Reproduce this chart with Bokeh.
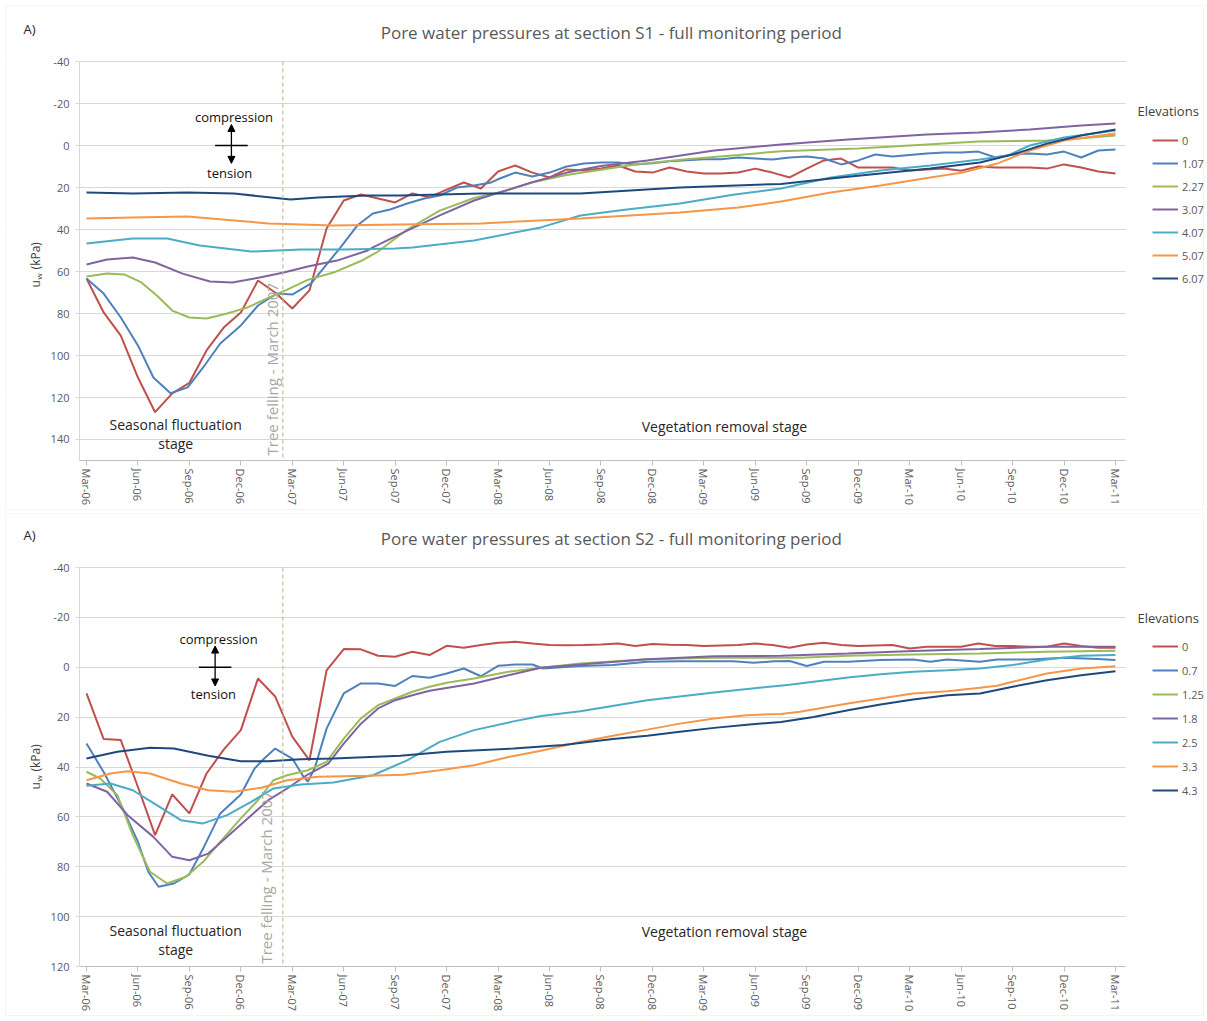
import math
from bokeh.plotting import figure
from bokeh.models import (Range1d, FixedTicker, Legend, LegendItem, Label, Arrow,
                          NormalHead, BoxAnnotation)
from bokeh.layouts import column
from bokeh.embed import file_html
from bokeh.resources import INLINE

FONT = "Open Sans"

# ---------------- axis categories ----------------
tick_months = [0, 3, 6, 9, 12, 15, 18, 21, 24, 27, 30, 33, 36, 39, 42, 45, 48, 51, 54, 57, 60]
tick_labels = ["Mar-06", "Jun-06", "Sep-06", "Dec-06", "Mar-07", "Jun-07", "Sep-07",
               "Dec-07", "Mar-08", "Jun-08", "Sep-08", "Dec-08", "Mar-09", "Jun-09",
               "Sep-09", "Dec-09", "Mar-10", "Jun-10", "Sep-10", "Dec-10", "Mar-11"]
felling_month = 11.45

s1_yticks = [-40, -20, 0, 20, 40, 60, 80, 100, 120, 140]
s2_yticks = [-40, -20, 0, 20, 40, 60, 80, 100, 120]

colors = ["#C0504D", "#4F81BD", "#9BBB59", "#8064A2", "#4BACC6", "#F79646", "#1F497D"]

# ---------------- section S1 ----------------
s1_names = ["0", "1.07", "2.27", "3.07", "4.07", "5.07", "6.07"]

s1_m_0 = [0, 1, 2, 3, 4, 5, 6, 7, 8, 9, 10, 11, 12, 13, 14, 15, 16, 17, 18, 19, 20,
          21, 22, 23, 24, 25, 26, 27, 28, 29, 30, 31, 32, 33, 34, 35, 36, 37, 38, 39, 40,
          41, 42, 43, 44, 45, 46, 47, 48, 49, 50, 51, 52, 53, 54, 55, 56, 57, 58, 59, 60]
s1_u_0 = [63.3, 79.5, 90.5, 110.5, 127.0, 118.0, 113.0, 97.6, 86.7, 79.5,
          64.3, 70.0, 77.6, 69.0, 39.5, 26.2, 23.3, 25.2, 27.1, 22.8,
          24.6, 21.0, 17.6, 20.5, 12.4, 9.5, 12.9, 15.2, 11.4, 11.9,
          11.0, 9.5, 12.4, 12.9, 10.5, 12.4, 13.3, 13.3, 12.9, 11.0,
          12.9, 15.2, 11.0, 7.1, 6.2, 10.5, 10.5, 10.5, 11.9, 11.4,
          11.0, 12.0, 10.0, 10.5, 10.5, 10.5, 11.0, 9.0, 10.5, 12.4, 13.3]

s1_m_107 = [0, 1, 2, 3, 3.9, 4.9, 5.9, 6.8, 7.8, 9,
            10, 11.1, 12, 13.1, 13.8, 14.8, 15.8, 16.7, 17.7, 18.7,
            19.7, 20.6, 21.6, 22.6, 23.6, 24.1, 25, 26, 27, 28,
            29, 30, 31, 32, 33, 34, 35, 36, 37, 38,
            39, 40, 41, 42, 43, 44, 45, 46, 47, 48,
            49, 50, 51, 52, 53, 54, 55, 56, 57, 58, 59, 60]
s1_u_107 = [63.3, 70.5, 81.9, 95.2, 110.5, 118.0, 115.2, 105.7, 94.3, 85.7,
            76.2, 70.5, 71.0, 65.7, 58.6, 48.6, 38.0, 32.4, 30.5, 27.6,
            25.2, 23.8, 20.0, 19.0, 17.6, 15.7, 12.9, 14.8, 12.9, 10.0,
            8.6, 8.1, 8.1, 9.0, 8.5, 7.5, 7.0, 6.5, 6.5, 5.7,
            6.2, 6.7, 5.7, 5.2, 6.2, 9.0, 7.1, 4.3, 5.2, 4.5,
            3.8, 3.3, 3.3, 2.9, 5.7, 4.3, 3.8, 4.3, 2.9, 5.7, 2.4, 1.9]

s1_m_227 = [0, 1.2, 2.2, 3.2, 4.1, 5, 6, 7, 8.2, 9.4, 10.5, 11.7, 12.9, 14.4, 16,
            17, 18.7, 20.6, 22.6, 24.5, 26, 28, 30, 32, 35, 38, 40.5, 45, 49, 52,
            56, 58, 60]
s1_u_227 = [62.4, 61.0, 61.4, 65.2, 71.4, 78.6, 81.9, 82.4, 80.0, 77.1, 72.9, 68.6,
            64.0, 60.5, 55.0, 50.5, 40.0, 31.0, 25.0, 21.5, 17.5, 14.0, 11.5, 9.0,
            6.5, 4.5, 2.7, 1.4, -0.5, -1.9, -2.4, -3.5, -4.8]

s1_m_307 = [0, 1.2, 2.7, 4, 5.6, 7.2, 8.5, 10.1, 11.5, 12.9, 14.6, 16.4, 16.7, 18.7,
            20.6, 22.6, 24.6, 26, 28, 30, 32.7, 36.6, 40.5, 44.4, 49, 52, 55, 58, 60]
s1_u_307 = [56.7, 54.3, 53.3, 55.7, 61.0, 64.8, 65.2, 62.9, 60.5, 57.6, 54.8, 50.0,
            48.5, 40.5, 33.3, 26.2, 21.0, 17.5, 12.9, 9.8, 7.1, 2.4, -0.5, -2.9,
            -5.2, -6.2, -7.6, -9.5, -10.5]

s1_m_407 = [0, 2.7, 4.7, 6.6, 9.6, 12.5, 15, 18, 19, 22.6, 26.5, 28.8, 31.5, 34.6,
            37.7, 40.5, 43.4, 46.3, 49.2, 52.1, 53.7, 55, 57, 60]
s1_u_407 = [46.7, 44.3, 44.3, 47.6, 50.5, 49.5, 49.5, 49.0, 48.6, 45.2, 39.0, 33.3,
            30.5, 27.6, 23.5, 20.5, 15.2, 11.9, 9.5, 6.7, 4.8, 0.0, -3.8, -7.1]

s1_m_507 = [0, 2.7, 5.9, 8.6, 10.6, 14.4, 18.3, 23, 28.8, 34.6, 38, 40.5, 43.4,
            46.3, 49.2, 51.1, 53.1, 55, 57, 60]
s1_u_507 = [34.8, 34.3, 33.8, 35.7, 37.1, 38.1, 37.6, 37.1, 34.8, 31.9, 29.5, 26.7,
            22.4, 19.0, 15.2, 12.9, 8.6, 2.4, -2.4, -5.7]

s1_m_607 = [0, 2.7, 5.9, 8.6, 11.9, 13.5, 16.4, 18.3, 23, 28.8, 34.6, 40.5, 43.4,
            46.3, 49.2, 52.1, 54, 56, 58, 60]
s1_u_607 = [22.4, 22.9, 22.4, 22.9, 25.7, 24.8, 23.8, 23.8, 22.9, 22.9, 20.0, 18.3,
            15.7, 13.3, 11.0, 8.1, 4.3, -0.9, -4.8, -7.6]

# ---------------- section S2 ----------------
s2_names = ["0", "0.7", "1.25", "1.8", "2.5", "3.3", "4.3"]

s2_m_0 = [0, 1, 2, 3, 4, 5, 6, 7, 8, 9, 10, 11, 12, 13, 14, 15, 16, 17, 18, 19, 20,
          21, 22, 23, 24, 25, 26, 27, 28, 29, 30, 31, 32, 33, 34, 35, 36, 37, 38, 39, 40,
          41, 42, 43, 44, 45, 46, 47, 48, 49, 50, 51, 52, 53, 54, 55, 56, 57, 58, 59, 60]
s2_u_0 = [10.5, 28.8, 29.2, 48.0, 67.3, 51.0, 58.6, 42.6, 33.0, 25.2,
          4.5, 11.7, 27.8, 37.3, 1.2, -7.3, -7.2, -4.6, -4.2, -6.2,
          -4.9, -8.6, -7.8, -8.9, -9.8, -10.2, -9.5, -8.9, -8.8, -8.9,
          -9.1, -9.5, -8.5, -9.3, -9.0, -8.9, -8.5, -8.7, -8.9, -9.5,
          -8.9, -7.8, -9.1, -9.8, -8.9, -8.5, -8.7, -8.9, -7.5, -8.2,
          -8.2, -8.2, -9.5, -8.5, -8.5, -8.2, -8.2, -9.5, -8.5, -7.8, -7.8]

s2_m_07 = [0, 1, 2, 3, 3.6, 4.2, 5.1, 6, 6.8, 7.8, 9, 9.8, 10.3, 11, 12, 12.6, 12.9,
           13.3, 14, 15, 16, 17, 18, 19, 20, 21, 22, 23, 24, 25, 26, 26.6, 28.8, 30.7,
           32.7, 34.6, 36.6, 37.7, 38.9, 40.1, 41, 42, 43, 44.4, 46.3, 48.2, 49.2,
           50.2, 52.1, 53.1, 55, 57, 59, 60]
s2_u_07 = [30.6, 42.0, 55.0, 70.0, 82.0, 88.0, 86.7, 83.0, 72.7, 58.6, 51.0, 40.6,
           37.0, 32.6, 36.6, 43.3, 45.9, 40.6, 24.6, 10.5, 6.5, 6.5, 7.5, 3.5, 4.2,
           2.5, 0.5, 3.6, -0.6, -1.1, -1.1, 0.5, -0.5, -0.9, -2.2, -2.4, -2.4, -2.4,
           -1.8, -2.4, -2.5, -0.5, -2.2, -2.2, -2.9, -3.1, -2.2, -3.1, -2.2, -3.1,
           -3.1, -3.8, -3.3, -2.9]

s2_m_125 = [0, 0.8, 1.8, 2.7, 3.7, 4.7, 5.8, 6.8, 7.8, 9, 10, 10.9, 11.7, 12.9, 14,
            15, 16, 17, 18, 19, 20, 21, 22.6, 24.6, 26.5, 28.8, 32.7, 36.6, 41.6,
            44.4, 48.2, 52.1, 56, 60]
s2_u_125 = [41.9, 44.6, 51.3, 67.3, 82.0, 86.7, 84.0, 78.0, 70.0, 60.6, 53.3, 45.3,
            43.3, 41.3, 37.9, 28.6, 20.5, 15.2, 12.5, 9.8, 7.8, 6.2, 4.5, 1.8, 0.2,
            -1.5, -3.2, -3.8, -3.8, -4.6, -5.1, -5.5, -6.2, -6.6]

s2_m_18 = [0, 1.2, 2.4, 3.9, 5, 6, 7.1, 8.2, 9.4, 10.6, 11.7, 12.9, 14.1, 15, 16, 17,
           18, 19, 20, 22.6, 24.6, 26.5, 28.8, 32.7, 36.6, 40.5, 44.4, 48.2, 52.1, 56, 60]
s2_u_18 = [46.6, 49.9, 59.3, 68.0, 76.0, 77.4, 74.7, 68.0, 60.6, 53.3, 48.6, 43.0,
           38.6, 30.6, 22.6, 16.5, 13.2, 11.2, 9.4, 6.5, 3.2, 0.2, -1.1, -3.2, -4.4,
           -4.6, -5.5, -6.5, -7.3, -8.2, -8.2]

s2_m_25 = [0, 1.4, 2.7, 4.1, 5.5, 6.8, 8.2, 9.6, 10.9, 12.5, 14.4, 16.7, 18.7, 20.6,
           22.6, 24.9, 26.5, 28.8, 32.7, 36.6, 41, 42.4, 44.4, 46.3, 48.2, 50.2, 52.1,
           54, 56, 58, 60]
s2_u_25 = [47.5, 46.6, 49.3, 55.3, 61.3, 62.6, 59.3, 54.0, 48.6, 47.0, 46.2, 43.3,
           37.3, 29.9, 25.2, 21.7, 19.5, 17.6, 13.2, 10.1, 7.0, 5.8, 4.1, 2.8, 1.8,
           1.2, 0.5, -0.9, -3.1, -4.6, -4.9]

s2_m_33 = [0, 1.4, 2.4, 3.7, 5.5, 7.1, 8.6, 10.2, 11.7, 13.5, 16.4, 18.5, 20.6, 22.6,
           24.6, 26.5, 28.8, 30.7, 32.7, 34.6, 36.6, 38.5, 40.5, 41.6, 44.4, 46.3,
           48.2, 50.2, 52.1, 53.1, 54, 56, 58, 60]
s2_u_33 = [45.3, 42.6, 41.7, 42.6, 46.6, 49.3, 49.9, 48.3, 45.3, 43.9, 43.5, 43.1,
           41.3, 39.3, 36.0, 33.5, 30.0, 27.5, 25.0, 22.6, 20.5, 19.2, 18.7, 17.8,
           14.5, 12.5, 10.5, 9.6, 8.2, 7.4, 5.8, 2.5, 0.5, -0.4]

s2_m_43 = [0, 1.8, 3.7, 5.1, 7.1, 9, 10.6, 12.5, 14.4, 18.3, 21, 24.9, 27.8, 30.7,
           32.7, 34.6, 36.6, 38.5, 40.5, 42.4, 44.4, 46.3, 48.2, 50.2, 52.1, 54, 56,
           58, 60]
s2_u_43 = [36.6, 33.9, 32.3, 32.6, 35.5, 37.7, 37.7, 36.9, 36.6, 35.5, 33.9, 32.6,
           31.2, 28.8, 27.5, 25.9, 24.3, 23.0, 21.9, 19.9, 17.2, 14.9, 12.9, 11.2,
           10.5, 7.8, 5.2, 3.2, 1.6]

s1_series = [(s1_m_0, s1_u_0), (s1_m_107, s1_u_107), (s1_m_227, s1_u_227),
             (s1_m_307, s1_u_307), (s1_m_407, s1_u_407), (s1_m_507, s1_u_507),
             (s1_m_607, s1_u_607)]
s2_series = [(s2_m_0, s2_u_0), (s2_m_07, s2_u_07), (s2_m_125, s2_u_125),
             (s2_m_18, s2_u_18), (s2_m_25, s2_u_25), (s2_m_33, s2_u_33),
             (s2_m_43, s2_u_43)]

X_LEFT, X_RIGHT = -0.41, 60.6      # plot-area limits (months)
W = 1205


def make_panel(title, names, series, y_min, y_max, y_ticks, cfg):
    p = figure(width=W, height=cfg["h"], output_backend="svg", toolbar_location=None,
               x_range=Range1d(cfg["xr"][0], cfg["xr"][1]),
               y_range=Range1d(cfg["yr"][0], cfg["yr"][1]),
               min_border=0, min_border_left=0, min_border_right=0,
               min_border_top=0, min_border_bottom=0)
    p.outline_line_color = None
    p.background_fill_color = "white"
    p.border_fill_color = "white"
    p.xgrid.grid_line_color = None
    p.ygrid.grid_line_color = "#d9d9d9"
    p.ygrid.grid_line_width = 1

    # cover the grid outside the plot area
    p.add_layout(BoxAnnotation(right=X_LEFT, fill_color="white", fill_alpha=1.0,
                               line_color=None, level="underlay"))
    p.add_layout(BoxAnnotation(left=X_RIGHT, fill_color="white", fill_alpha=1.0,
                               line_color=None, level="underlay"))

    ya = p.yaxis[0]
    ya.fixed_location = X_LEFT
    ya.bounds = (y_min, y_max)
    ya.ticker = FixedTicker(ticks=y_ticks)
    ya.major_label_overrides = {t: str(t) for t in y_ticks}
    ya.axis_line_color = "#d9d9d9"
    ya.major_tick_line_color = "#d9d9d9"
    ya.major_tick_out = 4
    ya.major_tick_in = 0
    ya.minor_tick_line_color = None
    ya.major_label_text_font = FONT
    ya.major_label_text_font_size = "11px"
    ya.major_label_text_color = "#595959"
    ya.major_label_standoff = 6

    xa = p.xaxis[0]
    xa.fixed_location = y_max
    xa.bounds = (X_LEFT, X_RIGHT)
    xa.ticker = FixedTicker(ticks=tick_months)
    xa.major_label_overrides = {m: lab for m, lab in zip(tick_months, tick_labels)}
    xa.major_label_orientation = -math.pi / 2
    xa.axis_line_color = "#bfbfbf"
    xa.major_tick_line_color = "#bfbfbf"
    xa.major_tick_out = 5
    xa.major_tick_in = 0
    xa.minor_tick_line_color = None
    xa.major_label_text_font = FONT
    xa.major_label_text_font_size = "11px"
    xa.major_label_text_color = "#595959"
    xa.major_label_standoff = 3

    items = []
    for name, (mx, uy), col in zip(names, series, colors):
        r = p.line(mx, uy, line_color=col, line_width=2)
        items.append(LegendItem(label=name, renderers=[r]))

    legend = Legend(items=items, location=(1152, cfg["leg_y"]), orientation="vertical",
                    glyph_width=26, glyph_height=20, label_height=20,
                    spacing=cfg["leg_sp"], padding=0, margin=0, label_standoff=4,
                    border_line_color=None, background_fill_alpha=0,
                    label_text_font=FONT, label_text_font_size="11px",
                    label_text_color="#595959")
    p.add_layout(legend)

    # tree felling line
    p.add_layout(Arrow(end=None, x_start=felling_month, y_start=y_min,
                       x_end=felling_month, y_end=y_max, line_color="#c4bd97",
                       line_dash="4 3", line_width=1.2))

    def lab(text, x, y, size, color, align="center", angle=0.0, baseline="middle"):
        p.add_layout(Label(x=x, y=y, text=text, text_font=FONT, text_font_size=size,
                           text_color=color, text_align=align, text_baseline=baseline,
                           angle=angle))

    lab(title, 30.6, cfg["title_y"], "17px", "#595959")
    lab("A)", -3.67, cfg["a_y"], "13px", "#262626", align="left")
    lab("Elevations", 61.28, cfg["elev_y"], "13px", "#404040", align="left")
    lab("u", -2.97, cfg["ylab"][0], "12px", "#404040", align="left", angle=math.pi / 2)
    lab("w", -2.78, cfg["ylab"][1], "8px", "#404040", align="left", angle=math.pi / 2)
    lab("(kPa)", -2.97, cfg["ylab"][2], "12px", "#404040", align="left",
        angle=math.pi / 2)

    lab("compression", cfg["comp"][0], cfg["comp"][1], "13px", "#111111")
    lab("tension", cfg["tens"][0], cfg["tens"][1], "13px", "#111111")
    cx = cfg["cross_x"]
    p.add_layout(Arrow(end=None, x_start=cx - cfg["half_w"], y_start=0,
                       x_end=cx + cfg["half_w"], y_end=0,
                       line_color="black", line_width=1.3))
    p.add_layout(Arrow(end=NormalHead(size=7, fill_color="black", line_color="black"),
                       x_start=cx, y_start=0, x_end=cx, y_end=cfg["arr_up"],
                       line_color="black", line_width=1.3))
    p.add_layout(Arrow(end=NormalHead(size=7, fill_color="black", line_color="black"),
                       x_start=cx, y_start=0, x_end=cx, y_end=cfg["arr_dn"],
                       line_color="black", line_width=1.3))
    lab("Seasonal fluctuation", 5.2, cfg["seas"][0], "14px", "#262626")
    lab("stage", 5.2, cfg["seas"][1], "14px", "#262626")
    lab("Vegetation removal stage", 37.2, cfg["veg"], "14px", "#262626")
    lab("Tree felling - March 2007", cfg["tree"][0], cfg["tree"][1], "15px", "#a6a6a6",
        align="left", angle=math.pi / 2)

    # light panel border
    p.add_layout(BoxAnnotation(left=5, right=W - 2, bottom=cfg["box"][0],
                               top=cfg["box"][1], left_units="screen",
                               right_units="screen", bottom_units="screen",
                               top_units="screen", fill_alpha=0,
                               line_color="#d9d9d9", line_width=1))
    return p


cfg1 = dict(h=510, xr=(-5.015, 65.25), yr=(173.81, -69.05),
            leg_y=222, leg_sp=3, title_y=-53.8, a_y=-55.7, elev_y=-16.2,
            ylab=(67.6, 63.8, 59.0), box=(1, 505),
            comp=(8.6, -13.8), tens=(8.35, 13.3), cross_x=8.45, half_w=0.95,
            arr_up=-10.0, arr_dn=8.5, seas=(132.9, 141.9), veg=133.8,
            tree=(10.8, 147.6))
cfg2 = dict(h=507, xr=(-5.015, 65.25), yr=(140.43, -62.86),
            leg_y=217, leg_sp=4, title_y=-51.6, a_y=-53.2, elev_y=-19.95,
            ylab=(49.0, 45.8, 41.8), box=(2, 504),
            comp=(7.7, -11.5), tens=(7.4, 10.9), cross_x=7.5, half_w=0.95,
            arr_up=-8.5, arr_dn=7.5, seas=(105.5, 113.2), veg=106.0,
            tree=(10.45, 118.8))

p1 = make_panel("Pore water pressures at section S1 - full monitoring period",
                s1_names, s1_series, -40, 150, s1_yticks, cfg1)
p2 = make_panel("Pore water pressures at section S2 - full monitoring period",
                s2_names, s2_series, -40, 120, s2_yticks, cfg2)

layout = column(p1, p2, spacing=0)
open("out.html", "w").write(file_html(layout, INLINE))
